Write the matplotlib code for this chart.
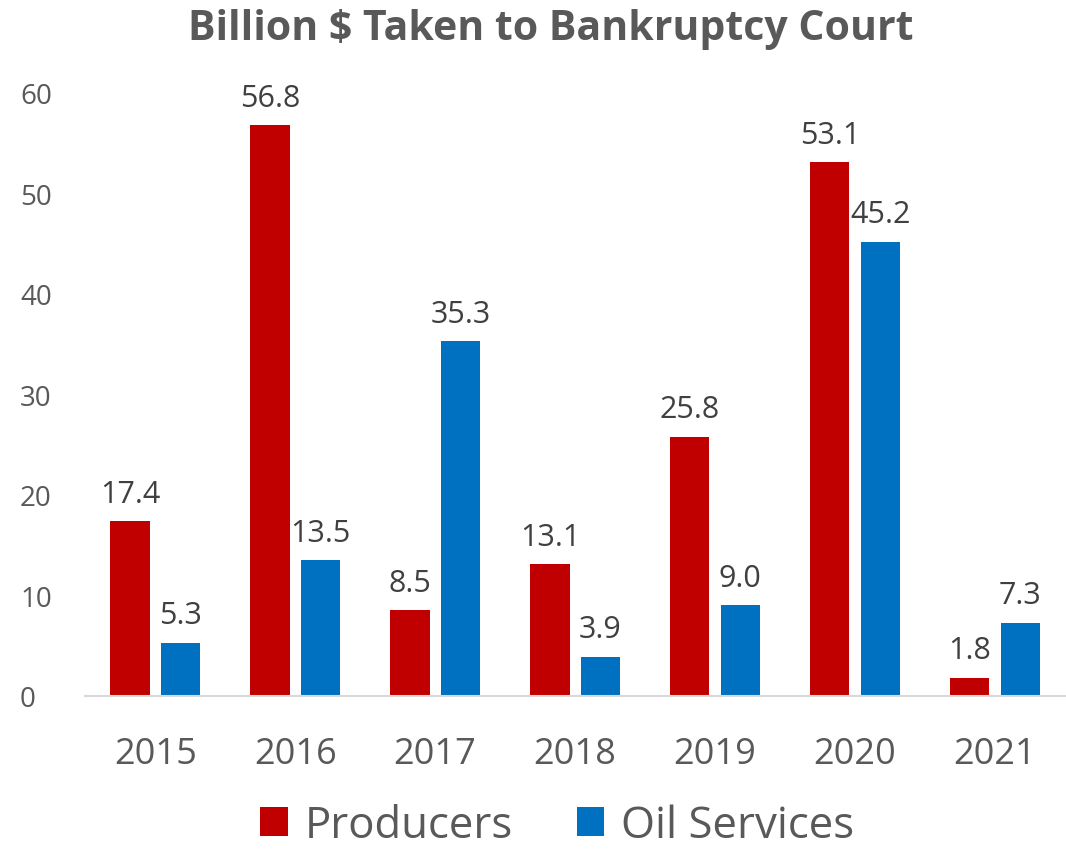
import matplotlib
matplotlib.use("Agg")
import matplotlib.pyplot as plt
import numpy as np

years = ["2015", "2016", "2017", "2018", "2019", "2020", "2021"]
producers = [17.4, 56.8, 8.5, 13.1, 25.8, 53.1, 1.8]
oil_services = [5.3, 13.5, 35.3, 3.9, 9.0, 45.2, 7.3]

RED = "#C00000"
BLUE = "#0070C0"
GRAY = "#595959"

plt.rcParams["font.family"] = ["Open Sans", "DejaVu Sans"]

fig = plt.figure(figsize=(10.66, 8.53), dpi=100)
ax = fig.add_axes([0.08, 0.183, 0.919, 0.707])

x = np.arange(len(years))
width = 0.28
offset = 0.18
b1 = ax.bar(x - offset, producers, width, color=RED, label="Producers")
b2 = ax.bar(x + offset, oil_services, width, color=BLUE, label="Oil Services")

for bars, vals in ((b1, producers), (b2, oil_services)):
    for rect, v in zip(bars, vals):
        ax.annotate(f"{v:.1f}", (rect.get_x() + rect.get_width() / 2, v),
                    xytext=(0, 14), textcoords="offset points",
                    ha="center", va="baseline", fontsize=22, color="#404040")

ax.set_xlim(-0.5, len(years) - 0.5)
ax.set_ylim(0, 60)
ax.set_yticks(range(0, 61, 10))
ax.set_xticks(x)
ax.set_xticklabels(years)
ax.tick_params(axis="y", labelsize=20, colors=GRAY, length=0, pad=47)
ax.tick_params(axis="x", labelsize=26, colors=GRAY, length=0, pad=29)
for lab in ax.get_yticklabels():
    lab.set_horizontalalignment("left")

for side in ("top", "right", "left"):
    ax.spines[side].set_visible(False)
ax.spines["bottom"].set_color("#D9D9D9")
ax.spines["bottom"].set_linewidth(1.5)

fig.suptitle("Billion $ Taken to Bankruptcy Court", x=0.517, y=0.99,
             fontsize=29.5, fontweight="bold", color=GRAY)

leg = fig.legend(handles=[b1, b2], loc="center", bbox_to_anchor=(0.523, 0.031),
                 ncol=2, frameon=False, fontsize=31.5, handlelength=0.62,
                 handleheight=0.62, handletextpad=0.4, columnspacing=1.45,
                 borderpad=0.0)
for t in leg.get_texts():
    t.set_color(GRAY)

fig.savefig("out.png", dpi=100)
